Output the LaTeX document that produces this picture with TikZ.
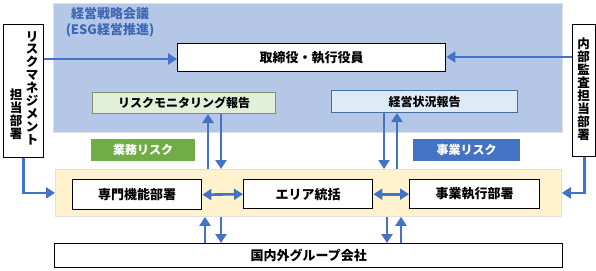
\documentclass[tikz,border=0pt]{standalone}
\usepackage{fontspec}
\setmainfont{Noto Sans CJK JP}
\usetikzlibrary{arrows.meta}
\definecolor{bgblue}{HTML}{B4C7E7}
\definecolor{bgyellow}{HTML}{FFF2CC}
\definecolor{lgreen}{HTML}{E2F0D9}
\definecolor{lblue}{HTML}{DEEBF7}
\definecolor{mgreen}{HTML}{70AD47}
\definecolor{mblue}{HTML}{4472C4}
\definecolor{titleblue}{HTML}{3E68B4}
\definecolor{grborder}{HTML}{7F8F6F}
\definecolor{blborder}{HTML}{41719C}
\tikzset{
  region/.style={draw=#1!80!black!20, line width=0.8pt, anchor=north west},
  blackbox/.style={draw=black, line width=1.4pt, fill=white, anchor=north west, inner sep=0pt,
    font=\bfseries\fontsize{13}{14}\selectfont},
  reportbox/.style={line width=1pt, anchor=north west, inner sep=0pt,
    font=\bfseries\fontsize{12}{13}\selectfont},
  tagbox/.style={fill=#1, anchor=north west, inner sep=0pt, text=white,
    font=\bfseries\fontsize{12}{13}\selectfont},
  vtext/.style={align=center, inner sep=0pt, anchor=north,
    font=\bfseries\fontsize{12.5}{12.9}\selectfont},
  arr/.style={draw=mblue, line width=2.6pt, -{Triangle[length=9pt,width=11pt]}},
  darr/.style={draw=mblue, line width=2.6pt, {Triangle[length=9pt,width=11pt]}-{Triangle[length=9pt,width=11pt]}},
}
\begin{document}
\begin{tikzpicture}[x=1pt,y=-1pt]
\useasboundingbox (0,0) rectangle (596,270);
% regions
\node[region=gray, fill=bgblue, minimum width=509pt, minimum height=129pt, inner sep=0pt] (council) at (53,3) {};
\node[region=gray, fill=bgyellow, minimum width=506pt, minimum height=47pt, inner sep=0pt] (yellow) at (55,169) {};
% title
\node[text=titleblue, font=\bfseries\fontsize{13}{16}\selectfont, align=center, anchor=center] (title) at (110,22) {経営戦略会議\\(ESG経営推進)};
% side boxes
\node[draw=black, line width=1.4pt, fill=white, anchor=north west, minimum width=40pt, minimum height=133pt, inner sep=0pt] (lbox) at (3,24) {};
\node[vtext] (lcol1) at (32,31) {リ\\ス\\ク\\マ\\ネ\\ジ\\メ\\ン\\ト};
\node[vtext] (lcol2) at (16,89) {担\\当\\部\\署};
\node[draw=black, line width=1.4pt, fill=white, anchor=north west, minimum width=23pt, minimum height=132pt, inner sep=0pt] (rbox) at (572,24) {};
\node[vtext] (rcol) at (583.5,38) {内\\部\\監\\査\\担\\当\\部\\署};
% top box
\node[blackbox, minimum width=268pt, minimum height=28pt] (exec) at (177,43) {取締役・執行役員};
% report boxes
\node[reportbox, draw=grborder, fill=lgreen, minimum width=183pt, minimum height=21pt] (mon) at (92,92) {リスクモニタリング報告};
\node[reportbox, draw=blborder, fill=lblue, minimum width=186pt, minimum height=22pt] (stat) at (331,90) {経営状況報告};
% tags
\node[tagbox=mgreen, minimum width=104pt, minimum height=22pt] (tag1) at (91,139) {業務リスク};
\node[tagbox=mblue, minimum width=107pt, minimum height=22pt] (tag2) at (413,139) {事業リスク};
% department boxes
\node[blackbox, minimum width=129pt, minimum height=30pt] (senmon) at (72,179) {専門機能部署};
\node[blackbox, minimum width=129pt, minimum height=29pt] (area) at (243,179) {エリア統括};
\node[blackbox, minimum width=130pt, minimum height=29pt] (jigyo) at (409,179) {事業執行部署};
% bottom box
\node[blackbox, minimum width=508pt, minimum height=24pt] (group) at (54,243) {国内外グループ会社};
% helper x positions
\coordinate (xa) at (208,0);
\coordinate (xb) at (221,0);
\coordinate (xc) at (384,0);
\coordinate (xd) at (397,0);
\coordinate (xe) at (205,0);
\coordinate (xf) at (221,0);
\coordinate (xg) at (387,0);
\coordinate (xh) at (401,0);
\coordinate (yl) at (0,59);
\coordinate (yr) at (0,57);
% arrows
\draw[arr] (lbox.east |- yl) -- (exec.west |- yl);
\draw[arr] (rbox.west |- yr) -- (exec.east |- yr);
\draw[arr] (yellow.north -| xa) -- (mon.south -| xa);
\draw[arr] (mon.south -| xb) -- (yellow.north -| xb);
\draw[arr] (stat.south -| xc) -- (yellow.north -| xc);
\draw[arr] (yellow.north -| xd) -- (stat.south -| xd);
\draw[arr] (group.north -| xe) -- (yellow.south -| xe);
\draw[arr] (yellow.south -| xf) -- (group.north -| xf);
\draw[arr] (yellow.south -| xg) -- (group.north -| xg);
\draw[arr] (group.north -| xh) -- (yellow.south -| xh);
\draw[darr] (senmon.east) -- (area.west);
\draw[darr] (area.east) -- (jigyo.west);
\draw[arr] (lbox.south) |- (yellow.west);
\draw[arr] (rbox.south) |- (yellow.east);
\end{tikzpicture}
\end{document}
